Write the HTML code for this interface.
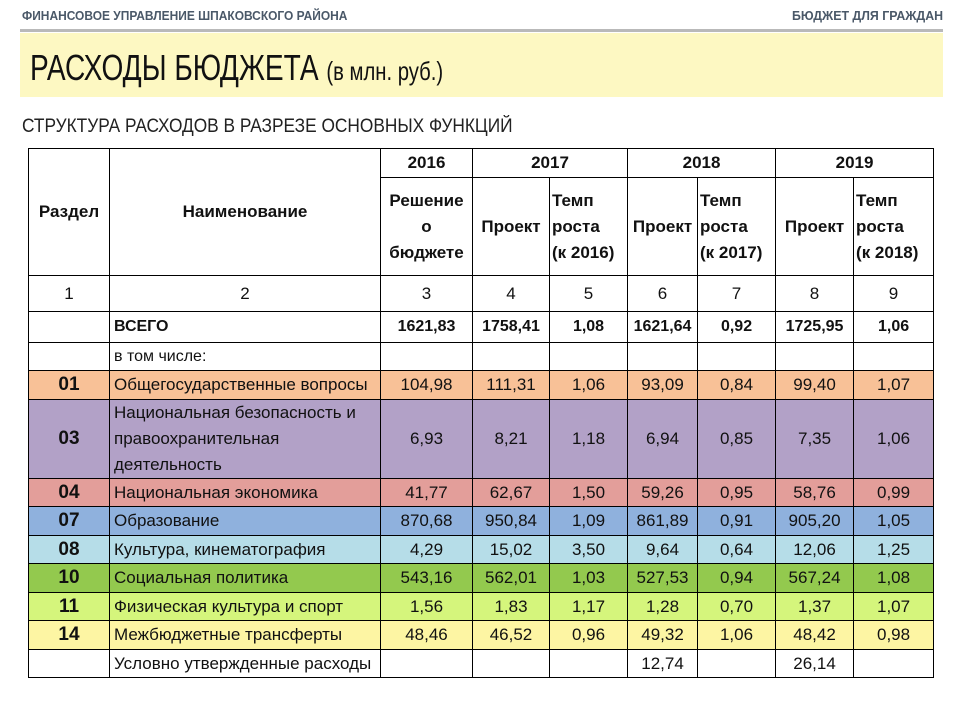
<!DOCTYPE html>
<html><head><meta charset="utf-8"><style>
body{margin:0;width:960px;height:720px;background:#fff;position:relative;overflow:hidden;font-family:"Liberation Sans Narrow","Liberation Sans",sans-serif;}
.top{position:absolute;top:8px;font-size:13px;color:#4a5868;font-weight:bold;white-space:nowrap;}
.line{position:absolute;left:20px;top:29px;width:923px;height:3px;background:#b9b9b9;}
.band{position:absolute;left:20px;top:33px;width:923px;height:64px;background:#fdf8c2;}
.title{position:absolute;left:30px;top:47px;font-size:36px;color:#111;white-space:nowrap;transform:scaleX(0.78);transform-origin:left top;}
.title span{font-size:26px;}
.sub{position:absolute;left:22px;top:116px;font-size:19px;color:#222;white-space:nowrap;transform:scaleX(0.91);transform-origin:left top;}
table{position:absolute;left:28px;top:148px;border-collapse:collapse;table-layout:fixed;width:905px;font-size:17px;color:#111;}
td{border:1px solid #000;text-align:center;padding:0;line-height:26px;overflow:hidden;white-space:nowrap;}
td.n{text-align:left;padding-left:4px;}
.b{font-weight:bold;}
.hd td{font-weight:bold;}
.c1 td{background:#f8c197}.c3 td{background:#b2a1c7}.c4 td{background:#e39e9a}.c7 td{background:#8fb1dd}
.c8 td{background:#b6dde8}.c10 td{background:#93c94e}.c11 td{background:#d5f57c}.c14 td{background:#fdf5a3}
.code{font-weight:bold;font-size:19px;}
</style></head><body>
<div class="top" style="left:22px;transform:scaleX(0.92);transform-origin:left top">ФИНАНСОВОЕ УПРАВЛЕНИЕ ШПАКОВСКОГО РАЙОНА</div>
<div class="top" style="right:17px;transform:scaleX(0.95);transform-origin:right top">БЮДЖЕТ ДЛЯ ГРАЖДАН</div>
<div class="line"></div>
<div class="band"></div>
<div class="title">РАСХОДЫ БЮДЖЕТА <span>(в млн. руб.)</span></div>
<div class="sub">СТРУКТУРА РАСХОДОВ В РАЗРЕЗЕ ОСНОВНЫХ ФУНКЦИЙ</div>
<table>
<colgroup><col style="width:81px"><col style="width:271px"><col style="width:92px"><col style="width:77px"><col style="width:78px"><col style="width:70px"><col style="width:78px"><col style="width:78px"><col style="width:80px"></colgroup>
<tr class="hd" style="height:29px"><td rowspan="2">Раздел</td><td rowspan="2">Наименование</td><td>2016</td><td colspan="2">2017</td><td colspan="2">2018</td><td colspan="2">2019</td></tr>
<tr class="hd" style="height:98px"><td>Решение<br>о<br>бюджете</td><td>Проект</td><td class="n" style="padding-left:2px">Темп<br>роста<br>(к 2016)</td><td>Проект</td><td class="n" style="padding-left:2px">Темп<br>роста<br>(к 2017)</td><td>Проект</td><td class="n" style="padding-left:2px">Темп<br>роста<br>(к 2018)</td></tr>
<tr style="height:36px"><td>1</td><td>2</td><td>3</td><td>4</td><td>5</td><td>6</td><td>7</td><td>8</td><td>9</td></tr>
<tr class="b" style="height:31px;font-size:16px"><td></td><td class="n">ВСЕГО</td><td>1621,83</td><td>1758,41</td><td>1,08</td><td>1621,64</td><td>0,92</td><td>1725,95</td><td>1,06</td></tr>
<tr style="height:28px"><td></td><td class="n" style="font-size:16px">в том числе:</td><td></td><td></td><td></td><td></td><td></td><td></td><td></td></tr>
<tr class="c1" style="height:29px"><td class="code">01</td><td class="n">Общегосударственные вопросы</td><td>104,98</td><td>111,31</td><td>1,06</td><td>93,09</td><td>0,84</td><td>99,40</td><td>1,07</td></tr>
<tr class="c3" style="height:79px"><td class="code">03</td><td class="n">Национальная безопасность и<br>правоохранительная<br>деятельность</td><td>6,93</td><td>8,21</td><td>1,18</td><td>6,94</td><td>0,85</td><td>7,35</td><td>1,06</td></tr>
<tr class="c4" style="height:28px"><td class="code">04</td><td class="n">Национальная экономика</td><td>41,77</td><td>62,67</td><td>1,50</td><td>59,26</td><td>0,95</td><td>58,76</td><td>0,99</td></tr>
<tr class="c7" style="height:29px"><td class="code">07</td><td class="n">Образование</td><td>870,68</td><td>950,84</td><td>1,09</td><td>861,89</td><td>0,91</td><td>905,20</td><td>1,05</td></tr>
<tr class="c8" style="height:28px"><td class="code">08</td><td class="n">Культура, кинематография</td><td>4,29</td><td>15,02</td><td>3,50</td><td>9,64</td><td>0,64</td><td>12,06</td><td>1,25</td></tr>
<tr class="c10" style="height:29px"><td class="code">10</td><td class="n">Социальная политика</td><td>543,16</td><td>562,01</td><td>1,03</td><td>527,53</td><td>0,94</td><td>567,24</td><td>1,08</td></tr>
<tr class="c11" style="height:28px"><td class="code">11</td><td class="n">Физическая культура и спорт</td><td>1,56</td><td>1,83</td><td>1,17</td><td>1,28</td><td>0,70</td><td>1,37</td><td>1,07</td></tr>
<tr class="c14" style="height:29px"><td class="code">14</td><td class="n">Межбюджетные трансферты</td><td>48,46</td><td>46,52</td><td>0,96</td><td>49,32</td><td>1,06</td><td>48,42</td><td>0,98</td></tr>
<tr style="height:28px"><td></td><td class="n">Условно утвержденные расходы</td><td></td><td></td><td></td><td>12,74</td><td></td><td>26,14</td><td></td></tr>
</table>
</body></html>
